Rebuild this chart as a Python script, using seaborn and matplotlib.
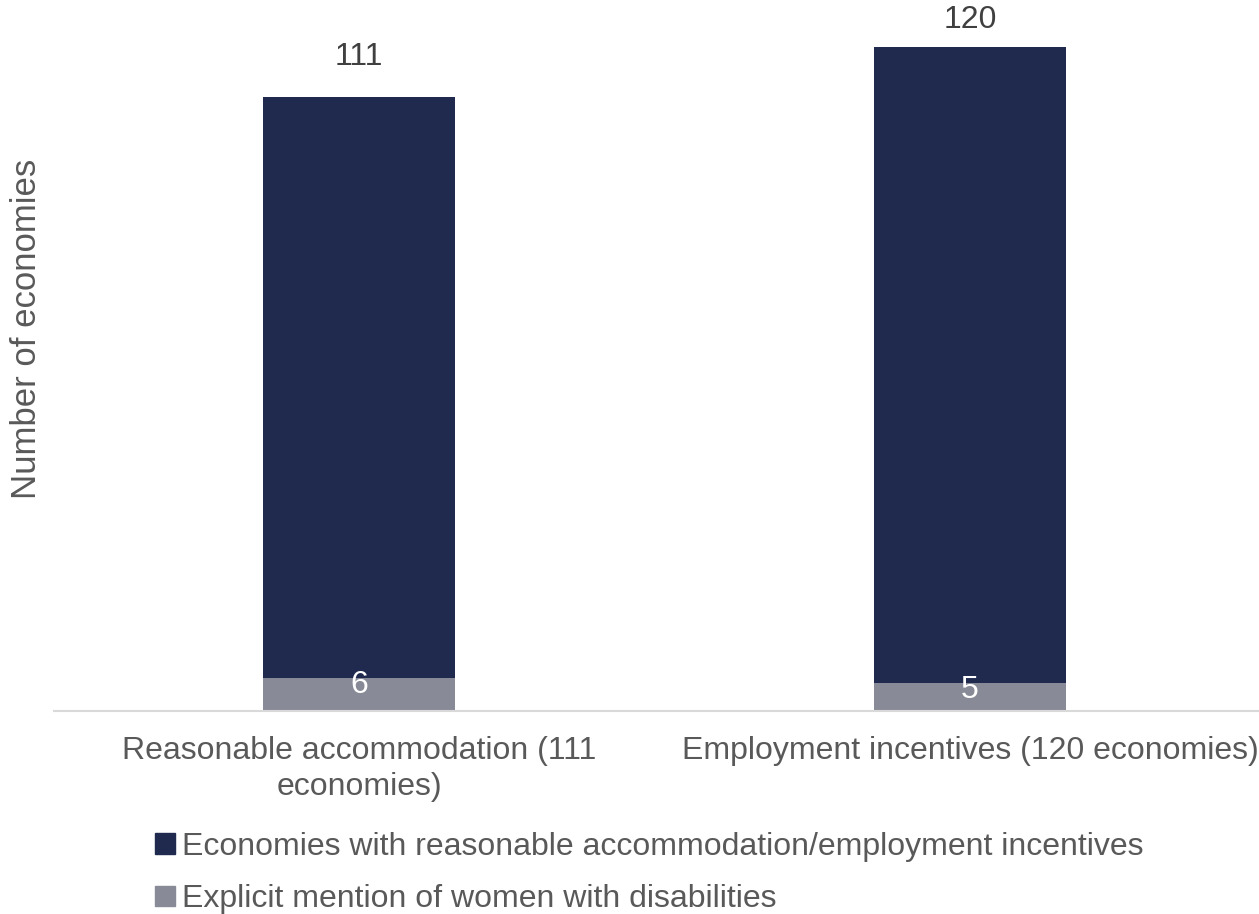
import matplotlib
matplotlib.use("Agg")
import matplotlib.pyplot as plt
from matplotlib.patches import Patch
import pandas as pd
import seaborn as sns

# --- Data ---
categories = [
    "Reasonable accommodation (111\neconomies)",
    "Employment incentives (120 economies)",
]
total_values = [111, 120]
women_values = [6, 5]
series_names = [
    "Economies with reasonable accommodation/employment incentives",
    "Explicit mention of women with disabilities",
]

navy = "#1F2A4E"
grey = "#888A97"
text_grey = "#595959"

df = pd.DataFrame({"category": categories, "total": total_values, "women": women_values})

sns.set_theme(style="white")
plt.rcParams["font.family"] = ["Liberation Sans", "DejaVu Sans"]

fig = plt.figure(figsize=(12.59, 9.14), dpi=100)
ax = fig.add_axes([53.5 / 1259, 1 - 711 / 914, 1 - 53.5 / 1259, 711 / 914])

# total bars first, then the women-with-disabilities bars overlaid at the bottom
sns.barplot(data=df, x="category", y="total", color=navy, width=0.314,
            saturation=1, linewidth=0, ax=ax)
sns.barplot(data=df, x="category", y="women", color=grey, width=0.314,
            saturation=1, linewidth=0, ax=ax)

ax.set_xlim(-0.5, 1.473)
ax.set_ylim(0, 128.5)

# labels above the bars (the top one sits a bit lower to stay inside the chart)
top_offsets = [40, 27]
for i, v in enumerate(total_values):
    ax.annotate(str(v), xy=(i, v), xytext=(0, top_offsets[i]),
                textcoords="offset pixels", ha="center", va="center",
                fontsize=23, color="#404040")
for i, v in enumerate(women_values):
    ax.annotate(str(v), xy=(i, v), xytext=(0, -7), textcoords="offset pixels",
                ha="center", va="center", fontsize=23, color="white")

ax.set_xlabel("")
ax.set_ylabel("Number of economies", fontsize=25, color=text_grey)
ax.yaxis.set_label_coords(-0.009, 0.537)
ax.set_yticks([])
ax.tick_params(axis="x", length=0, labelsize=23, labelcolor=text_grey, pad=18)
for lbl in ax.get_xticklabels():
    lbl.set_linespacing(1.25)

for side in ["top", "right", "left"]:
    ax.spines[side].set_visible(False)
ax.spines["bottom"].set_color("#D9D9D9")
ax.spines["bottom"].set_linewidth(1.5)

handles = [Patch(color=navy), Patch(color=grey)]
fig.legend(handles, series_names, loc="upper left",
           bbox_to_anchor=(155 / 1259, 1 - 832 / 914), frameon=False,
           fontsize=23, labelcolor=text_grey, handlelength=0.62,
           handleheight=0.62, handletextpad=0.22, labelspacing=0.7,
           borderaxespad=0, borderpad=0)

fig.savefig("out.png", dpi=100)
